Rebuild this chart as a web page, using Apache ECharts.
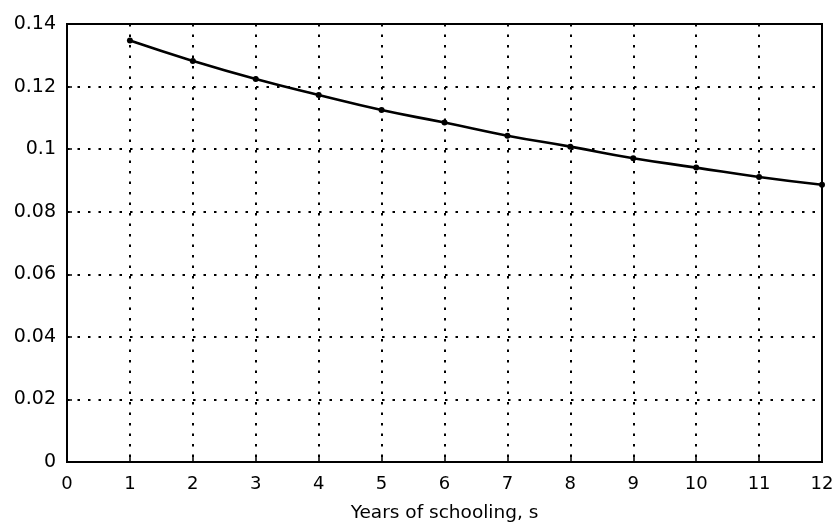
<!DOCTYPE html>
<html>
<head>
<meta charset="utf-8" />
<title></title>
<script src="https://cdn.jsdelivr.net/npm/echarts@6/dist/echarts.min.js"></script>
<style>
html, body { margin: 0; padding: 0; width: 100%; height: 100%; background: #fff; }
</style>
</head>
<body>
<div id="container" style="width:839px;height:528px"></div>
<script>
// years of schooling and value
var years = [1, 2, 3, 4, 5, 6, 7, 8, 9, 10, 11, 12];
var values = [0.1347, 0.1282, 0.1224, 0.1173, 0.1125, 0.1085, 0.1043, 0.1008, 0.0971, 0.0941, 0.0911, 0.0886];
var xTitle = 'Years of schooling, s';

var points = years.map(function (y, i) { return [y, values[i]]; });

var gridLine = { show: true, lineStyle: { color: '#000', type: [2.5, 8], width: 2 } };
var font = 'DejaVu Sans, sans-serif';

var myChart = echarts.init(document.getElementById('container'));
var option = {
	animation: false,
	backgroundColor: '#fff',
	grid: {
		left: 67, right: 17, top: 24, bottom: 66,
		show: true, borderColor: '#000', borderWidth: 2, backgroundColor: 'transparent'
	},
	xAxis: {
		type: 'value', min: 0, max: 12, interval: 1,
		name: xTitle, nameLocation: 'middle', nameGap: 42,
		nameTextStyle: { color: '#000', fontSize: 18.5, fontFamily: font },
		axisLine: { show: true, lineStyle: { color: '#000', width: 2 } },
		axisTick: { show: true, inside: true, length: 5, lineStyle: { color: '#000', width: 1.5 } },
		axisLabel: { color: '#000', fontSize: 18, fontFamily: font, margin: 13 },
		splitLine: gridLine
	},
	yAxis: {
		type: 'value', min: 0, max: 0.14, interval: 0.02,
		axisLine: { show: true, lineStyle: { color: '#000', width: 2 } },
		axisTick: { show: true, inside: true, length: 5, lineStyle: { color: '#000', width: 1.5 } },
		axisLabel: { color: '#000', fontSize: 19, fontFamily: font, margin: 11,
			formatter: function (v) { return v === 0 ? '0' : String(+v.toFixed(2)); } },
		splitLine: gridLine
	},
	series: [{
		type: 'line',
		data: points,
		smooth: true,
		symbol: 'circle',
		symbolSize: 6,
		itemStyle: { color: '#000' },
		lineStyle: { color: '#000', width: 2.6 }
	}]
};
myChart.setOption(option);
</script>
</body>
</html>
